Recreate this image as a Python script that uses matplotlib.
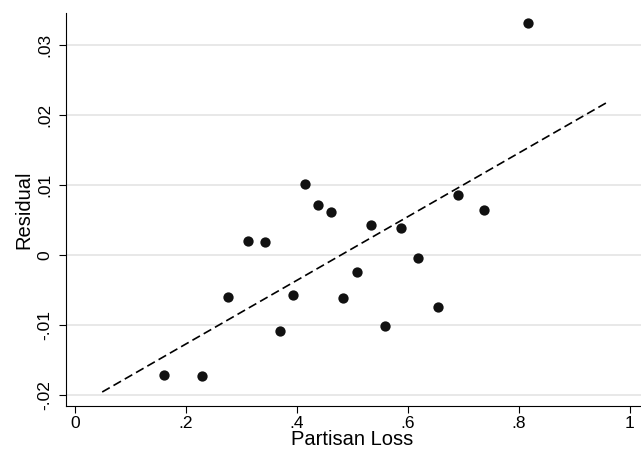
import matplotlib
matplotlib.use("Agg")
import matplotlib.pyplot as plt

plt.rcParams['font.family'] = ['Liberation Sans', 'DejaVu Sans']

partisan_loss = [0.160, 0.229, 0.275, 0.311, 0.342, 0.369, 0.393, 0.415, 0.438, 0.461,
                 0.483, 0.508, 0.533, 0.558, 0.587, 0.619, 0.654, 0.691, 0.737, 0.816]
residual = [-0.01714, -0.01729, -0.00596, 0.00204, 0.00181, -0.0109, -0.00571, 0.01019, 0.00714, 0.00614,
            -0.0061, -0.00238, 0.00424, -0.0102, 0.00386, -0.00043, -0.00748, 0.00861, 0.00647, 0.03319]
fit_x = [0.049, 0.960]
fit_y = [-0.01957, 0.02186]

xticks = [0, 0.2, 0.4, 0.6, 0.8, 1.0]
xticklabels = ["0", ".2", ".4", ".6", ".8", "1"]
yticks = [-0.02, -0.01, 0.0, 0.01, 0.02, 0.03]
yticklabels = ["-.02", "-.01", "0", ".01", ".02", ".03"]

fig = plt.figure(figsize=(6.41, 4.50), dpi=100)
ax = fig.add_axes([0.103, 0.0984, 0.897, 0.8726])

for y in yticks:
    ax.axhline(y, color='#e6e6e6', lw=1.3, zorder=0)

ax.plot(fit_x, fit_y, color='black', lw=1.2, ls=(0, (5.2, 2.6)), zorder=2)
ax.scatter(partisan_loss, residual, s=55, color='#111111', zorder=3, linewidths=0)

ax.set_xlim(-0.0162, 1.02)
ax.set_ylim(-0.02153, 0.03457)

ax.set_xticks(xticks)
ax.set_xticklabels(xticklabels)
ax.set_yticks(yticks)
ax.set_yticklabels(yticklabels, rotation=90, va='center')

ax.tick_params(axis='both', direction='out', length=5, width=0.8, labelsize=12.5, colors='black')
ax.tick_params(axis='y', pad=4.8)
ax.tick_params(axis='x', pad=2.5)

for s in ['top', 'right']:
    ax.spines[s].set_visible(False)
for s in ['left', 'bottom']:
    ax.spines[s].set_color('black')
    ax.spines[s].set_linewidth(0.8)

ax.set_xlabel("Partisan Loss", fontsize=14.5)
ax.xaxis.label.set_va('baseline')
ax.xaxis.set_label_coords(0.497, -0.100)
ax.set_ylabel("Residual", fontsize=14.5, labelpad=3)

fig.savefig("out.png", dpi=100)
